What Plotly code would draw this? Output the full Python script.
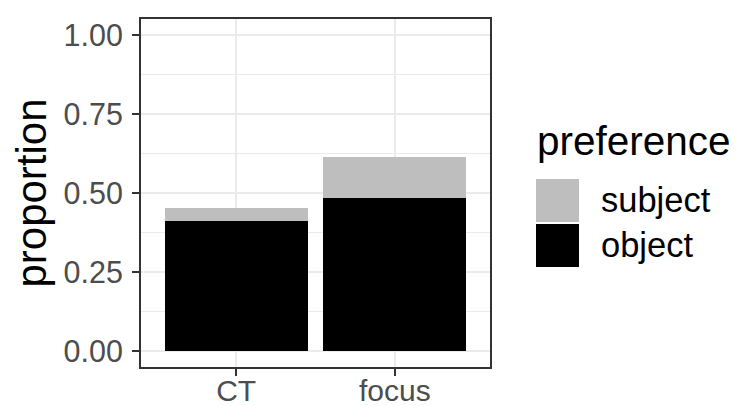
import plotly.graph_objects as go

categories = ["CT", "focus"]
object_vals = [0.412, 0.483]
subject_vals = [0.040, 0.132]
series_names = ["subject", "object"]
series_colors = ["#BEBEBE", "#000000"]
y_ticks = [0, 0.25, 0.5, 0.75, 1.0]
y_tick_labels = ["0.00", "0.25", "0.50", "0.75", "1.00"]

PAGE_W, PAGE_H = 737, 406
OFF = 8  # default body margin of the page
L, R, T, B = 141, 490, 19, 367  # plot panel in page pixels
FONT = "Liberation Sans, Arial, sans-serif"

def px_x(x):
    return (x - L) / (R - L)

def px_y(y):
    return (B - y) / (B - T)

fig = go.Figure()
fig.add_trace(go.Bar(x=categories, y=object_vals, name="object",
                     marker=dict(color=series_colors[1], line=dict(width=0)),
                     width=0.9, showlegend=False))
fig.add_trace(go.Bar(x=categories, y=subject_vals, name="subject",
                     marker=dict(color=series_colors[0], line=dict(width=0)),
                     width=0.9, showlegend=False))

fig.update_layout(
    width=PAGE_W - OFF, height=PAGE_H - OFF,
    margin=dict(l=L - OFF, r=PAGE_W - R, t=T - OFF, b=PAGE_H - B),
    barmode="stack",
    plot_bgcolor="white", paper_bgcolor="white",
    font=dict(family=FONT, color="#000000"),
    showlegend=False,
)
fig.update_xaxes(
    automargin=False,
    range=[-0.6, 1.6], showgrid=True, gridcolor="#EBEBEB", gridwidth=2.2,
    showline=True, linecolor="#333333", linewidth=2, mirror=True,
    ticks="outside", ticklen=7, tickcolor="#333333", tickwidth=2,
    ticklabelstandoff=-11,
    tickfont=dict(size=30, color="#4D4D4D", family=FONT), zeroline=False,
)
fig.update_yaxes(
    automargin=False,
    range=[-0.05, 1.05], tickvals=y_ticks, ticktext=y_tick_labels,
    showgrid=True, gridcolor="#EBEBEB", gridwidth=2.2,
    minor=dict(tickvals=[0.125, 0.375, 0.625, 0.875], showgrid=True,
               gridcolor="#EBEBEB", gridwidth=1.1, ticks=""),
    showline=True, linecolor="#333333", linewidth=2, mirror=True,
    ticks="outside", ticklen=7, tickcolor="#333333", tickwidth=2,
    ticklabelstandoff=3,
    tickfont=dict(size=30.5, color="#4D4D4D", family=FONT), zeroline=False,
    title=dict(text="proportion", font=dict(size=42, color="#000000", family=FONT), standoff=4),
)

# legend (drawn manually to match large square keys)
fig.add_annotation(text="preference", xref="paper", yref="paper",
                   x=px_x(535), y=px_y(141), xanchor="left", yanchor="middle",
                   showarrow=False, font=dict(size=40.5, color="#000000", family=FONT))
key_tops = [179, 224]
for name, color, top in zip(series_names, series_colors, key_tops):
    fig.add_shape(type="rect", xref="paper", yref="paper",
                  x0=px_x(536), x1=px_x(579), y0=px_y(top), y1=px_y(top + 43),
                  fillcolor=color, line=dict(width=0))
    fig.add_annotation(text=name, xref="paper", yref="paper",
                       x=px_x(599), y=px_y(top + 21), xanchor="left", yanchor="middle",
                       showarrow=False, font=dict(size=34.5, color="#000000", family=FONT))

fig.write_html("out.html")
